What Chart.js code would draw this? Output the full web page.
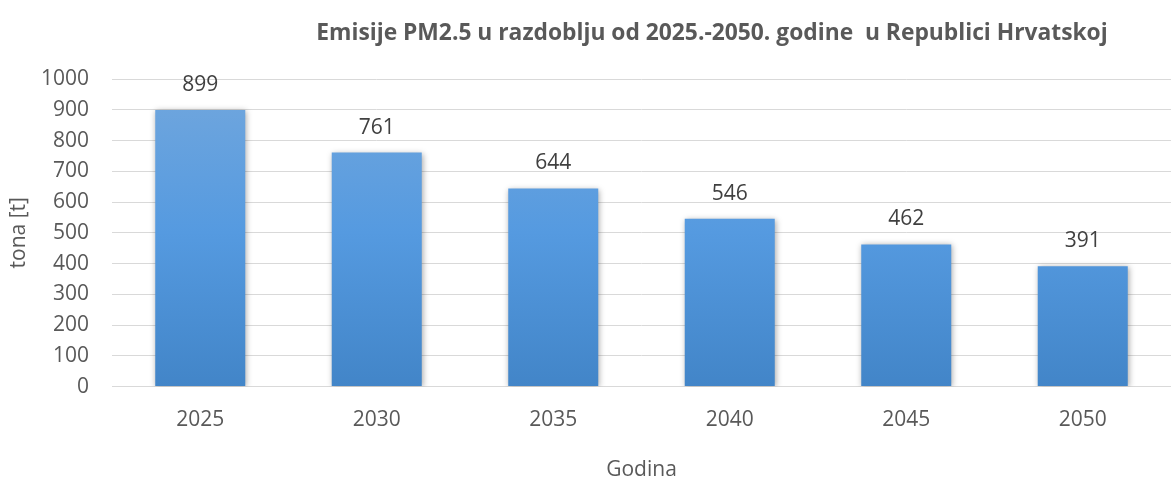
<!DOCTYPE html>
<html>
<head>
<meta charset="utf-8">
<script src="https://cdn.jsdelivr.net/npm/chart.js@4"></script>
<style>
  html, body { margin: 0; padding: 0; background: #fff; }
  #wrap { width: 1171px; height: 480px; }
</style>
</head>
<body>
<div id="wrap"><canvas id="chart"></canvas></div>
<script>
const godine = ["2025", "2030", "2035", "2040", "2045", "2050"];
const emisije = [899, 761, 644, 546, 462, 391];
const yTicks = [0, 100, 200, 300, 400, 500, 600, 700, 800, 900, 1000];

const naslov = "Emisije PM2.5 u razdoblju od 2025.-2050. godine  u Republici Hrvatskoj";
const FONT = "'Open Sans', 'Noto Sans', sans-serif";
const FS = 21;

// bar gradient, lighter on top
function barGradient(context) {
  const area = context.chart.chartArea;
  if (!area) return "#5b9bd5";
  const g = context.chart.ctx.createLinearGradient(0, area.top, 0, area.bottom);
  g.addColorStop(0, "#72a7dd");
  g.addColorStop(0.5, "#559ae0");
  g.addColorStop(1, "#4285c8");
  return g;
}

// soft shadow round the bars
const shadowPlugin = {
  id: "shadow",
  beforeDatasetsDraw(chart) {
    const ctx = chart.ctx;
    ctx.save();
    ctx.shadowColor = "rgba(0,0,0,0.35)";
    ctx.shadowBlur = 6;
    ctx.shadowOffsetX = 1;
    ctx.shadowOffsetY = 1;
  },
  afterDatasetsDraw(chart) {
    chart.ctx.restore();
  }
};

// values above the bars
const labelPlugin = {
  id: "vrijednosti",
  afterDatasetsDraw(chart) {
    const ctx = chart.ctx;
    const meta = chart.getDatasetMeta(0);
    ctx.save();
    ctx.font = FS + "px " + FONT;
    ctx.fillStyle = "#404040";
    ctx.textAlign = "center";
    ctx.textBaseline = "middle";
    meta.data.forEach((bar, i) => {
      ctx.fillText(String(emisije[i]), bar.x, bar.y - 25);
    });
    ctx.restore();
  }
};

// title, sits right of centre like in the original
const titlePlugin = {
  id: "naslov",
  afterDraw(chart) {
    const ctx = chart.ctx;
    ctx.save();
    ctx.font = "bold 22.8px " + FONT;
    ctx.fillStyle = "#595959";
    ctx.textAlign = "center";
    ctx.textBaseline = "middle";
    ctx.fillText(naslov, 712, 34);
    ctx.restore();
  }
};

new Chart(document.getElementById("chart"), {
  type: "bar",
  data: {
    labels: godine,
    datasets: [{
      data: emisije,
      backgroundColor: barGradient,
      borderWidth: 0,
      barPercentage: 0.51,
      categoryPercentage: 1
    }]
  },
  options: {
    responsive: true,
    maintainAspectRatio: false,
    animation: false,
    layout: { padding: { top: 79, right: 0, left: 6, bottom: -3 } },
    plugins: {
      legend: { display: false },
      tooltip: { enabled: false }
    },
    scales: {
      x: {
        grid: { display: false, drawTicks: false },
        border: { display: true, color: "#d9d9d9", width: 1 },
        ticks: { color: "#595959", font: { family: FONT, size: FS }, padding: 21 },
        title: {
          display: true,
          text: "Godina",
          color: "#595959",
          font: { family: FONT, size: FS },
          padding: { top: 4, bottom: 0 }
        }
      },
      y: {
        min: 0,
        max: 1000,
        afterBuildTicks(scale) {
          scale.ticks = yTicks.map(v => ({ value: v }));
        },
        afterFit(scale) {
          scale.width = 106;
        },
        grid: { color: "#d9d9d9", lineWidth: 1, drawTicks: false },
        border: { display: false },
        ticks: {
          color: "#595959",
          font: { family: FONT, size: FS },
          padding: 23,
          callback: v => String(v)
        },
        title: {
          display: true,
          text: "tona [t]",
          color: "#595959",
          font: { family: FONT, size: FS },
          padding: { top: 0, bottom: 0 }
        }
      }
    }
  },
  plugins: [shadowPlugin, labelPlugin, titlePlugin]
});
</script>
</body>
</html>
